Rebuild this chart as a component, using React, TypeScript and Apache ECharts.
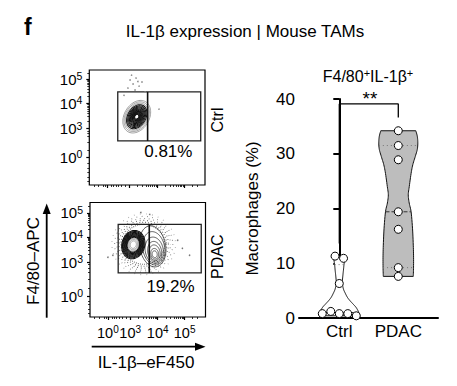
import React, { useEffect, useRef } from "react";
import * as echarts from "echarts";

const FONT = '"Liberation Sans", Arial, Helvetica, sans-serif';

// ---------------- Flow cytometry panels (display units 0–100 on both axes) ----------------
const flowTickExponents = ["0", "3", "4", "5"];
const flowXTicks = [15.5, 34.8, 58.6, 81.9];
const flowXMinorTicks = [4, 8, 12, 14, 19, 21, 23, 25, 28, 31, 41.4, 45.7, 48.8, 51.2, 53.1, 54.8, 56.2, 57.5, 65.6, 69.7, 72.6, 74.9, 76.7, 78.3, 79.6, 80.8, 88.9, 93];
const ctrlFlowYTicks = [24, 49, 71, 92];
const ctrlFlowYMinorTicks = [3, 7, 11, 15, 19, 30, 37, 42, 45, 47, 55.6, 59.5, 62.2, 64.4, 66.1, 67.6, 68.9, 70, 77.3, 81, 83.6, 85.7, 87.3, 88.7, 90, 91.1, 97];
const pdacFlowYTicks = [18, 48, 70, 91];
const pdacFlowYMinorTicks = [3, 7, 11, 14, 25, 33, 39, 43, 46, 54.6, 58.5, 61.2, 63.4, 65.1, 66.6, 67.9, 69, 76.3, 80, 82.6, 84.7, 86.3, 87.7, 89, 90.1, 97];

// gate: [x0, y0, x1, y1, dividerX]
const ctrlGate = [24.6, 38.3, 96.3, 80.9, 50.4];
const pdacGate = [24.4, 38.5, 96.3, 80.9, 51.3];
const ctrlGateLabel = "0.81%";
const pdacGateLabel = "19.2%";
const ctrlGateLabelPos = [68.3, 28.7];
const pdacGateLabelPos = [69.7, 27];

// contour levels: [centerX, centerY, semiAxisA, semiAxisB, angleDeg, kind]  kind 0 dark, 1 grey, 3 plume
const ctrlContours = [
  [41, 59.4, 15.1, 10.8, 60, 1],
  [41, 59.4, 13.8, 9.8, 60, 1],
  [41, 59.4, 12.5, 8.8, 60, 1],
  [41, 59.4, 11.2, 7.8, 60, 0],
  [41, 59.4, 10.1, 6.9, 60, 0],
  [41, 59.4, 9.1, 6.1, 60, 0],
  [41, 59.4, 8.2, 5.4, 60, 0],
  [41, 59.4, 7.3, 4.8, 60, 0],
  [41, 59.4, 6.5, 4.2, 60, 0],
  [41, 59.4, 5.7, 3.7, 60, 0],
  [41, 59.4, 5.0, 3.2, 60, 0],
  [41, 59.4, 4.3, 2.7, 60, 0],
  [41, 59.4, 3.6, 2.3, 60, 0],
  [41, 59.4, 2.9, 1.9, 60, 0],
  [41, 59.4, 2.2, 1.5, 60, 0],
];
const ctrlEvents = [
  [35.2, 91.3], [37.8, 87.8], [40.4, 93], [43, 86], [33.4, 84.3], [45.5, 89.6],
  [39.5, 82.6], [60.2, 66], [30, 78], [48.2, 80.9], [36.5, 95.5], [42, 90],
];

const pdacBlobContours = [
  [37.5, 63.2, 12.5, 9.9, 75, 0],
  [37.5, 63.2, 11.6, 9.2, 75, 0],
  [37.5, 63.2, 10.8, 8.6, 75, 0],
  [37.5, 63.2, 10.0, 8.0, 75, 0],
  [37.5, 63.2, 9.3, 7.4, 75, 0],
  [37.5, 63.2, 8.6, 6.9, 75, 0],
  [37.5, 63.2, 7.9, 6.3, 75, 0],
  [37.5, 63.2, 7.2, 5.8, 75, 0],
  [37.5, 63.2, 6.5, 5.2, 75, 0],
  [37.5, 63.2, 5.6, 4.5, 75, 1],
  [37.5, 63.2, 4.5, 3.6, 75, 1],
  [37.5, 63.2, 3.3, 2.6, 75, 1],
];
const pdacPlumeContours = [
  [54.3, 61.7, 18.1, 11.2, 100, 3],
  [55.2, 60.0, 14.7, 9.5, 100, 3],
  [55.6, 58.3, 11.6, 7.8, 100, 3],
  [56.0, 57.0, 9.1, 6.0, 100, 3],
  [56.0, 56.1, 6.9, 4.7, 100, 3],
  [56.0, 55.2, 4.7, 3.4, 100, 3],
  [56.0, 54.8, 3.0, 2.2, 100, 3],
];
// halo of scattered events around the PDAC population
const pdacHaloRings = [
  [46.5, 63.5, 18, 17.5, 0],
  [46.5, 63.5, 19.7, 19.2, 0],
  [46.5, 63.5, 21.4, 20.9, 0],
  [46.5, 63.5, 23.2, 22.6, 0],
  [46.5, 63.5, 25.2, 24.4, 0],
  [46.5, 63.5, 27.6, 26.6, 0],
];
const pdacEvents = [
  [15.5, 52.2], [19.8, 53.9], [86.2, 53.9], [75.9, 67], [44, 91.3], [51.7, 89.6], [24.1, 73.9], [80, 60],
];

// ---------------- Violin plot ----------------
const violinCategories = ["Ctrl", "PDAC"];
const ctrlValues = [0.8, 1.2, 0.8, 0.8, 0.4, 11.3, 10.9, 6.3];
const pdacValues = [34.2, 31.5, 28.9, 19.4, 16.2, 9.2, 7.6];
// violin outline: [value, half-width in category units]
const ctrlViolinProfile = [
  [0.4, 0.344], [0.8, 0.339], [1.4, 0.314], [2.0, 0.28], [2.6, 0.229], [3.2, 0.178], [3.8, 0.136],
  [4.5, 0.102], [5.2, 0.073], [6.0, 0.056], [6.8, 0.053], [7.8, 0.061], [8.8, 0.071], [9.6, 0.078],
  [10.4, 0.088], [11.3, 0.102],
];
const pdacViolinProfile = [
  [7.6, 0.254], [9, 0.258], [11, 0.259], [13.3, 0.254], [16.4, 0.241], [19.4, 0.217], [21, 0.185],
  [22.5, 0.169], [24, 0.186], [26.4, 0.217], [28, 0.246], [29.5, 0.288], [30.8, 0.322], [32, 0.331],
  [33.2, 0.322], [34.2, 0.297],
];
const violinYTicks = [0, 10, 20, 30, 40];
const bracketLevels = [13.6, 39.1, 36.6];
const significanceLabel = "**";

// ---------------- helpers ----------------
function nearestIndex(arr: number[], v: number) {
  let best = 0;
  for (let i = 1; i < arr.length; i++) if (Math.abs(arr[i] - v) < Math.abs(arr[best] - v)) best = i;
  return best;
}

function densify(profile: number[][], steps = 6) {
  const out: number[][] = [];
  const n = profile.length;
  for (let i = 0; i < n - 1; i++) {
    const p0 = profile[Math.max(0, i - 1)], p1 = profile[i], p2 = profile[i + 1], p3 = profile[Math.min(n - 1, i + 2)];
    for (let k = 0; k < steps; k++) {
      const t = k / steps, t2 = t * t, t3 = t2 * t;
      const f = (a: number, b: number, c: number, d: number) =>
        0.5 * (2 * b + (-a + c) * t + (2 * a - 5 * b + 4 * c - d) * t2 + (-a + 3 * b - 3 * c + d) * t3);
      out.push([f(p0[0], p1[0], p2[0], p3[0]), f(p0[1], p1[1], p2[1], p3[1])]);
    }
  }
  out.push(profile[n - 1]);
  return out;
}

function halfWidthAt(profile: number[][], v: number) {
  for (let i = 0; i < profile.length - 1; i++) {
    const [a, ha] = profile[i], [b, hb] = profile[i + 1];
    if (v >= a && v <= b) return ha + ((v - a) / (b - a || 1)) * (hb - ha);
  }
  return v < profile[0][0] ? profile[0][1] : profile[profile.length - 1][1];
}

function quantile(values: number[], p: number) {
  const s = [...values].sort((a, b) => a - b);
  const n = s.length;
  const pos = p * (n + 1);
  if (pos <= 1) return s[0];
  if (pos >= n) return s[n - 1];
  const lo = Math.floor(pos);
  return s[lo - 1] + (pos - lo) * (s[lo] - s[lo - 1]);
}

function swarm(values: number[], center: number, threshold: number, step: number) {
  const n = values.length;
  const cluster = new Array(n).fill(-1);
  let c = 0;
  for (let i = 0; i < n; i++) {
    if (cluster[i] !== -1) continue;
    const queue = [i];
    cluster[i] = c;
    while (queue.length) {
      const k = queue.shift() as number;
      for (let j = 0; j < n; j++) {
        if (cluster[j] === -1 && Math.abs(values[j] - values[k]) < threshold) {
          cluster[j] = c;
          queue.push(j);
        }
      }
    }
    c++;
  }
  const out: number[][] = [];
  for (let g = 0; g < c; g++) {
    const members = values.map((v, i) => i).filter((i) => cluster[i] === g);
    members.forEach((i, k) => {
      out.push([center + (k - (members.length - 1) / 2) * step, values[i]]);
    });
  }
  return out;
}

const contourStyles: any[] = [
  { stroke: "#111", lineWidth: 1.05 },
  { stroke: "#808080", lineWidth: 0.75 },
  { stroke: "#7a7a7a", lineWidth: 1.1 },
  { stroke: "#333", lineWidth: 0.8 },
];

function ellipsePoints(api: any) {
  const cx = api.value(0), cy = api.value(1), a = api.value(2), b = api.value(3);
  const ang = (api.value(4) * Math.PI) / 180;
  const c = api.coord([cx, cy]);
  const s = api.size([1, 1]);
  const pts: number[][] = [];
  const n = 72;
  for (let i = 0; i < n; i++) {
    const t = (i / n) * Math.PI * 2;
    const lx = a * Math.cos(t), ly = b * Math.sin(t);
    const rx = lx * Math.cos(ang) - ly * Math.sin(ang);
    const ry = lx * Math.sin(ang) + ly * Math.cos(ang);
    pts.push([c[0] + rx * s[0], c[1] - ry * s[1]]);
  }
  return pts;
}

const contourItem = (params: any, api: any) => {
  const kind = api.value(5);
  return {
    type: "polygon",
    shape: { points: ellipsePoints(api) },
    style: { fill: "none", ...contourStyles[kind] },
  };
};

const haloItem = (params: any, api: any) => {
  const i = params.dataIndex;
  return {
    type: "polygon",
    shape: { points: ellipsePoints(api) },
    style: {
      fill: "none",
      stroke: i < 3 ? "#555" : i < 5 ? "#808080" : "#a8a8a8",
      lineWidth: 1.1,
      lineDash: [0.8, 1.3 + i * 0.8],
      lineDashOffset: i * 1.7,
    },
  };
};

const gateItem = (params: any, api: any) => {
  const p0 = api.coord([api.value(0), api.value(3)]);
  const p1 = api.coord([api.value(2), api.value(1)]);
  const d0 = api.coord([api.value(4), api.value(3)]);
  const d1 = api.coord([api.value(4), api.value(1)]);
  const style = { fill: "none", stroke: "#222", lineWidth: 1.3 };
  return {
    type: "group",
    children: [
      { type: "rect", shape: { x: p0[0], y: p0[1], width: p1[0] - p0[0], height: p1[1] - p0[1] }, style },
      { type: "line", shape: { x1: d0[0], y1: d0[1], x2: d1[0], y2: d1[1] }, style: { stroke: "#111", lineWidth: 1.6 } },
    ],
  };
};

const supRich = {
  b: { fontSize: 15, fontFamily: FONT, color: "#000", lineHeight: 17 },
  s: { fontSize: 10.5, fontFamily: FONT, color: "#000", lineHeight: 10.5, verticalAlign: "top" },
};
const supRichX = {
  b: { fontSize: 14.5, fontFamily: FONT, color: "#000", lineHeight: 17 },
  s: { fontSize: 10, fontFamily: FONT, color: "#000", lineHeight: 10, verticalAlign: "top" },
};

function flowAxes(gridIndex: number, yTicks: number[], yMinor: number[], showXLabels: boolean) {
  const common = { type: "value", gridIndex, min: 0, max: 100, splitLine: { show: false }, axisLine: { show: false } };
  // an empty label at each axis end keeps the first/last-label overlap check away from the real labels
  const xLabelValues = [0.5, ...flowXTicks, 99.5];
  const xAxes = [
    {
      ...common,
      position: "bottom",
      axisTick: { show: true, customValues: flowXTicks, length: 3, lineStyle: { color: "#000", width: 1.2 } },
      axisLabel: {
        show: showXLabels,
        customValues: xLabelValues,
        margin: 7,
        hideOverlap: false,
        formatter: (v: number) => {
          if (v < flowXTicks[0] - 5 || v > flowXTicks[flowXTicks.length - 1] + 5) return "";
          return `{b|10}{s|${flowTickExponents[nearestIndex(flowXTicks, v)]}}`;
        },
        rich: supRichX,
      },
    },
    {
      ...common,
      position: "bottom",
      axisTick: { show: true, customValues: flowXMinorTicks, length: 2, lineStyle: { color: "#000", width: 0.8 } },
      axisLabel: { show: false },
    },
  ];
  const yAxes = [
    {
      ...common,
      position: "left",
      axisTick: { show: true, customValues: yTicks, length: 3, lineStyle: { color: "#000", width: 1.2 } },
      axisLabel: {
        show: true,
        customValues: yTicks,
        margin: 7,
        hideOverlap: false,
        showMinLabel: true,
        showMaxLabel: true,
        formatter: (v: number) => `{b|10}{s|${flowTickExponents[nearestIndex(yTicks, v)]}}`,
        rich: supRich,
      },
    },
    {
      ...common,
      position: "left",
      axisTick: { show: true, customValues: yMinor, length: 2, lineStyle: { color: "#000", width: 0.8 } },
      axisLabel: { show: false },
    },
  ];
  return { xAxes, yAxes };
}

function buildOption() {
  const a = flowAxes(0, ctrlFlowYTicks, ctrlFlowYMinorTicks, false);
  const b = flowAxes(1, pdacFlowYTicks, pdacFlowYMinorTicks, true);

  const violinPxPerUnitY = 219 / 40;
  const threshold = 8 / violinPxPerUnitY;
  const step = 8.5 / 59;
  const ctrlPoints = swarm(ctrlValues, 0, threshold, step);
  const pdacPoints = swarm(pdacValues, 1, threshold, step);

  const profiles = [densify(ctrlViolinProfile), densify(pdacViolinProfile)];
  const groupValues = [ctrlValues, pdacValues];
  const violinFills = ["#ffffff", "#bdbdbd"];

  const violinItem = (params: any, api: any) => {
    const i = params.dataIndex;
    const x0 = api.value(0);
    const prof = profiles[i];
    const right = prof.map(([v, h]) => api.coord([x0 + h, v]));
    const left = [...prof].reverse().map(([v, h]) => api.coord([x0 - h, v]));
    const qs = [0.25, 0.5, 0.75].map((p) => quantile(groupValues[i], p));
    const lines = qs.map((q, k) => {
      const h = halfWidthAt(prof, q);
      const p1 = api.coord([x0 - h, q]);
      const p2 = api.coord([x0 + h, q]);
      return {
        type: "line",
        shape: { x1: p1[0], y1: p1[1], x2: p2[0], y2: p2[1] },
        style: k === 1 ? { stroke: "#333", lineWidth: 1, lineDash: [4, 2] } : { stroke: "#777", lineWidth: 1, lineDash: [1, 3] },
      };
    });
    return {
      type: "group",
      children: [
        { type: "polygon", shape: { points: right.concat(left) }, style: { fill: violinFills[i], stroke: "#111", lineWidth: 1 } },
        ...lines,
      ],
    };
  };

  const labelSeries = (xi: number, pos: number[], text: string, size: number) => ({
    type: "scatter", xAxisIndex: xi, yAxisIndex: xi, data: [pos], symbolSize: 0, silent: true, clip: false,
    itemStyle: { opacity: 1 },
    label: { show: true, position: "inside", formatter: text, fontSize: size, color: "#000", fontFamily: FONT, opacity: 1 },
  });

  return {
    animation: false,
    backgroundColor: "#fff",
    textStyle: { fontFamily: FONT },
    grid: [
      { left: 89.3, top: 70, width: 115.7, height: 115, show: true, borderColor: "#000", borderWidth: 1.2, backgroundColor: "transparent" },
      { left: 90, top: 202.5, width: 115.5, height: 114.5, show: true, borderColor: "#000", borderWidth: 1.2, backgroundColor: "transparent" },
      { left: 299, top: 99, width: 139, height: 219 },
    ],
    xAxis: [
      ...a.xAxes,
      ...b.xAxes,
      {
        type: "value",
        gridIndex: 2,
        min: -0.683,
        max: 1.673,
        splitLine: { show: false },
        axisLine: { show: true, lineStyle: { color: "#000", width: 2 } },
        axisTick: { show: false },
        axisLabel: {
          customValues: [0, 1],
          formatter: (v: number) => violinCategories[Math.round(v)],
          fontSize: 17,
          color: "#000",
          fontFamily: FONT,
          margin: 5,
        },
      },
    ],
    yAxis: [
      ...a.yAxes,
      ...b.yAxes,
      {
        type: "value",
        gridIndex: 2,
        min: 0,
        max: 40,
        interval: 10,
        splitLine: { show: false },
        axisLine: { show: true, lineStyle: { color: "#000", width: 2 } },
        axisTick: { show: true, length: 6, lineStyle: { color: "#000", width: 2 } },
        axisLabel: { fontSize: 17, color: "#000", fontFamily: FONT, margin: 4, customValues: violinYTicks },
        name: "Macrophages (%)",
        nameLocation: "middle",
        nameGap: 38,
        nameTextStyle: { fontSize: 17, color: "#000", fontFamily: FONT },
      },
    ],
    series: [
      // ----- Ctrl flow panel -----
      { type: "scatter", xAxisIndex: 0, yAxisIndex: 0, data: ctrlEvents, symbolSize: 1.6, itemStyle: { color: "#8a8a8a", opacity: 1 }, silent: true },
      { type: "custom", xAxisIndex: 0, yAxisIndex: 0, data: ctrlContours, renderItem: contourItem, encode: { x: 0, y: 1 }, silent: true },
      { type: "scatter", xAxisIndex: 0, yAxisIndex: 0, data: [[41, 59.4]], symbolSize: 2.5, itemStyle: { color: "#fff", opacity: 1 }, silent: true },
      { type: "custom", xAxisIndex: 0, yAxisIndex: 0, data: [ctrlGate], renderItem: gateItem, encode: { x: 0, y: 1 }, silent: true },
      labelSeries(0, ctrlGateLabelPos, ctrlGateLabel, 17),
      // ----- PDAC flow panel -----
      { type: "custom", xAxisIndex: 2, yAxisIndex: 2, data: pdacHaloRings, renderItem: haloItem, encode: { x: 0, y: 1 }, silent: true },
      { type: "scatter", xAxisIndex: 2, yAxisIndex: 2, data: pdacEvents, symbolSize: 1.6, itemStyle: { color: "#777", opacity: 1 }, silent: true },
      { type: "custom", xAxisIndex: 2, yAxisIndex: 2, data: pdacPlumeContours, renderItem: contourItem, encode: { x: 0, y: 1 }, silent: true },
      { type: "custom", xAxisIndex: 2, yAxisIndex: 2, data: pdacBlobContours, renderItem: contourItem, encode: { x: 0, y: 1 }, silent: true },
      { type: "scatter", xAxisIndex: 2, yAxisIndex: 2, data: [[37.5, 63.2]], symbolSize: 2.5, itemStyle: { color: "#fff", opacity: 1 }, silent: true },
      { type: "custom", xAxisIndex: 2, yAxisIndex: 2, data: [pdacGate], renderItem: gateItem, encode: { x: 0, y: 1 }, silent: true },
      labelSeries(2, pdacGateLabelPos, pdacGateLabel, 17),
      // ----- violin plot -----
      { type: "custom", xAxisIndex: 4, yAxisIndex: 4, data: [[0, 0], [1, 0]], renderItem: violinItem, encode: { x: 0, y: 1 }, silent: true },
      {
        type: "line", xAxisIndex: 4, yAxisIndex: 4, symbol: "none", silent: true, clip: false,
        data: [[0, bracketLevels[0]], [0, bracketLevels[1]], [1, bracketLevels[1]], [1, bracketLevels[2]]],
        lineStyle: { color: "#000", width: 1.3 },
      },
      labelSeries(4, [0.52, 40.1], significanceLabel, 19),
      {
        type: "scatter", xAxisIndex: 4, yAxisIndex: 4, data: [...ctrlPoints, ...pdacPoints], symbolSize: 8, silent: true,
        itemStyle: { color: "#fff", borderColor: "#000", borderWidth: 1, opacity: 1 }, z: 5,
      },
    ],
    graphic: [
      { type: "text", x: 24, y: 27, style: { text: "f", font: `bold 23px ${FONT}`, fill: "#000", align: "left", verticalAlign: "middle" } },
      { type: "text", x: 245, y: 31, style: { text: "IL-1β expression | Mouse TAMs", font: `17px ${FONT}`, fill: "#000", align: "center", verticalAlign: "middle" } },
      {
        type: "text", x: 368, y: 76,
        style: {
          text: "{a|F4/80}{s|+}{a|IL-1β}{s|+}", align: "center", verticalAlign: "middle",
          rich: {
            a: { fontSize: 16, fontFamily: FONT, fill: "#000", lineHeight: 18 },
            s: { fontSize: 11, fontFamily: FONT, fill: "#000", lineHeight: 11, verticalAlign: "top" },
          },
        },
      },
      { type: "text", x: 217.5, y: 120, rotation: Math.PI / 2, style: { text: "Ctrl", font: `16px ${FONT}`, fill: "#000", align: "center", verticalAlign: "middle" } },
      { type: "text", x: 217.5, y: 256.7, rotation: Math.PI / 2, style: { text: "PDAC", font: `16px ${FONT}`, fill: "#000", align: "center", verticalAlign: "middle" } },
      { type: "text", x: 33, y: 261, rotation: Math.PI / 2, style: { text: "F4/80–APC", font: `17px ${FONT}`, fill: "#000", align: "center", verticalAlign: "middle" } },
      { type: "text", x: 146, y: 362, style: { text: "IL-1β–eF450", font: `17px ${FONT}`, fill: "#000", align: "center", verticalAlign: "middle" } },
      { type: "line", shape: { x1: 46.7, y1: 317.7, x2: 46.7, y2: 210 }, style: { stroke: "#000", lineWidth: 1.8 } },
      { type: "polygon", shape: { points: [[46.7, 203.5], [42.7, 214], [50.7, 214]] }, style: { fill: "#000" } },
      { type: "line", shape: { x1: 91.7, y1: 346.7, x2: 199, y2: 346.7 }, style: { stroke: "#000", lineWidth: 1.8 } },
      { type: "polygon", shape: { points: [[205.5, 346.7], [195, 342.7], [195, 350.7]] }, style: { fill: "#000" } },
    ],
  };
}

export default function App() {
  const ref = useRef<HTMLDivElement>(null);
  useEffect(() => {
    if (!ref.current) return;
    const chart = echarts.init(ref.current, undefined, { renderer: "svg" });
    chart.setOption(buildOption() as any);
    return () => chart.dispose();
  }, []);
  return (
    <div
      ref={ref}
      style={{ position: "absolute", left: 0, top: 0, width: 457, height: 386, background: "#fff" }}
    />
  );
}
